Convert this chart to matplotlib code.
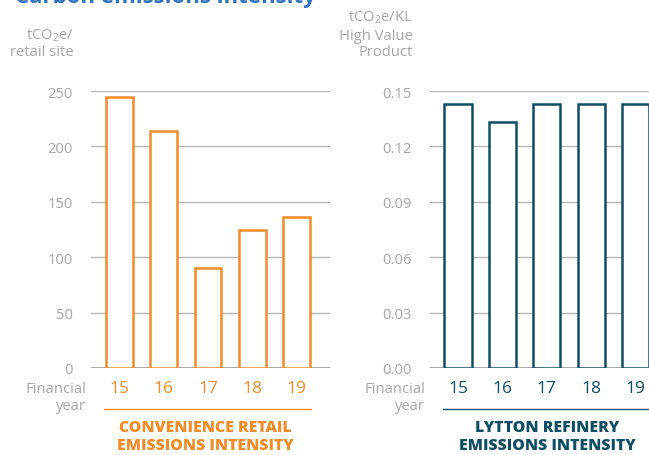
import matplotlib
matplotlib.use("Agg")
import matplotlib.pyplot as plt

plt.rcParams['font.family'] = ['Open Sans', 'DejaVu Sans']
plt.rcParams['mathtext.fontset'] = 'custom'
plt.rcParams['mathtext.rm'] = 'Open Sans'
plt.rcParams['mathtext.it'] = 'Open Sans'

years = ["15", "16", "17", "18", "19"]
retail_values = [245, 214, 90, 125, 136]
retail_ticks = [0, 50, 100, 150, 200, 250]
refinery_values = [0.143, 0.133, 0.143, 0.143, 0.143]
refinery_ticks = [0.00, 0.03, 0.06, 0.09, 0.12, 0.15]

ORANGE = "#F28C28"
TEAL = "#0E4F63"
GREY = "#a6a6a6"
GRID = "#b8b8b8"
BLUE = "#2F74BD"
LABEL_SIZE = 10.6

W, H = 649, 456
fig = plt.figure(figsize=(W / 100, H / 100), dpi=100)


def px_axes(x0, x1, y_top, y_bot):
    return fig.add_axes([x0 / W, 1 - y_bot / H, (x1 - x0) / W, (y_bot - y_top) / H])


def style_axes(ax, ticks, labels, color, values, xlim):
    ax.set_xlim(*xlim)
    ax.set_ylim(ticks[0], ticks[-1])
    for t in ticks[1:]:
        ax.axhline(t, color=GRID, lw=1.0, zorder=0)
    ax.axhline(ticks[0], color="#999999", lw=1.2, zorder=0)
    ax.bar(range(len(values)), values, width=0.61, facecolor="white",
           edgecolor=color, linewidth=1.8, zorder=2)
    for s in ax.spines.values():
        s.set_visible(False)
    ax.set_yticks(ticks)
    ax.set_yticklabels(labels, color=GREY, fontsize=LABEL_SIZE)
    ax.tick_params(axis='y', length=0, pad=13)
    ax.set_xticks(range(len(years)))
    ax.set_xticklabels(years, color=color, fontsize=12.5)
    ax.tick_params(axis='x', length=0, pad=9)
    ax.patch.set_alpha(0)


# Convenience retail chart
ax1 = px_axes(91, 330, 92, 369)
style_axes(ax1, retail_ticks, [str(t) for t in retail_ticks], ORANGE,
           retail_values, (-0.644, 4.757))

# Lytton refinery chart
ax2 = px_axes(430, 660, 92, 369)
style_axes(ax2, refinery_ticks, [f"{t:.2f}" for t in refinery_ticks], TEAL,
           refinery_values, (-0.63, 4.55))


def ftext(x, y, s, **kw):
    fig.text(x / W, 1 - y / H, s, **kw)


# Title
ftext(15, 3, "Carbon emissions intensity", color=BLUE, fontsize=16,
      fontweight='bold', ha='left', va='baseline')

# Unit labels
co2 = r"tCO$_{\mathregular{2}}$e/"
lab = dict(color=GREY, fontsize=LABEL_SIZE, ha='right', va='center')
ftext(74, 36, co2, **lab)
ftext(74, 53, "retail site", **lab)
ftext(413, 18, co2 + "KL", **lab)
ftext(413, 36, "High Value", **lab)
ftext(413, 53, "Product", **lab)

# Financial year labels
for xr in (86, 425):
    ftext(xr, 390, "Financial", **lab)
    ftext(xr, 407, "year", **lab)

# Underlines
fig.add_artist(plt.Line2D([104 / W, 311 / W], [1 - 410 / H] * 2, color=ORANGE, lw=1.0))
fig.add_artist(plt.Line2D([443 / W, 649 / W], [1 - 410 / H] * 2, color=TEAL, lw=1.0))

# Chart captions
cap = dict(fontsize=11.3, fontweight='heavy', ha='center', va='center')
ftext(205, 428, "CONVENIENCE RETAIL", color=ORANGE, **cap)
ftext(205, 446, "EMISSIONS INTENSITY", color=ORANGE, **cap)
ftext(547, 428, "LYTTON REFINERY", color=TEAL, **cap)
ftext(547, 446, "EMISSIONS INTENSITY", color=TEAL, **cap)

fig.savefig("out.png", dpi=100)
